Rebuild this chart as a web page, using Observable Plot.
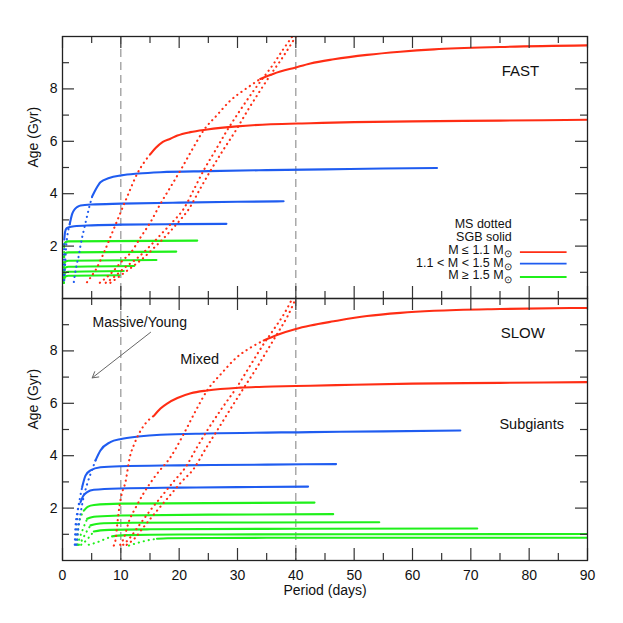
<!DOCTYPE html>
<html>
<head>
<meta charset="utf-8">
<script src="https://cdn.jsdelivr.net/npm/d3@7"></script>
<script src="https://cdn.jsdelivr.net/npm/@observablehq/plot@0.6"></script>
<style>
  html, body { margin: 0; padding: 0; background: #fff; }
  #chart svg { display: block; overflow: visible; }
</style>
</head>
<body>
<div id="chart"></div>
<script>
// ---------------- data (Period in days, Age in Gyr) ----------------
const xMajor = [0, 10, 20, 30, 40, 50, 60, 70, 80, 90];
const xMinor = [5, 15, 25, 35, 45, 55, 65, 75, 85];
const yMajor = [2, 4, 6, 8];
const yMinor = [1, 3, 5, 7, 9];
const dashedPeriods = [10, 40];
const massClasses = ["low", "mid", "high"];
const legendLabels = ["M ≤ 1.1 M⊙", "1.1 < M < 1.5 M⊙", "M ≥ 1.5 M⊙"];
const legendHeader = ["MS dotted", "SGB solid"];

// FAST panel
const fastRedMS1 = [[4.2,0.62],[4.8,0.8],[5.7,1.1],[7.1,1.75],[8.5,2.5],[10.1,3.36],[11.4,4.05],[12.8,4.76],[14.0,5.2],[15.1,5.52]];
const fastRedSGB1 = [[15.1,5.52],[16.0,5.75],[17.2,5.98],[18.5,6.1],[19.7,6.22],[21.9,6.35],[24.8,6.45],[29.9,6.57],[35.7,6.65],[42.5,6.69],[50,6.73],[60,6.76],[75,6.79],[90,6.82]];
const fastRedMS2 = [[6.4,0.6],[8.5,1.0],[10.3,1.45],[11.7,1.75],[13.4,2.34],[15.1,2.92],[16.8,3.62],[18.5,4.25],[20.5,5.0],[22.4,5.75],[24.2,6.42],[26.5,7.0],[28.8,7.56],[31.4,8.0],[33.9,8.38]];
const fastRedSGB2 = [[33.9,8.38],[36.2,8.58],[40,8.82],[42.5,8.97],[46.5,9.13],[52.2,9.3],[57.9,9.42],[63.7,9.51],[75,9.6],[90,9.66]];
const fastRedMS3 = [[7.4,0.6],[9.0,0.85],[10.5,1.15],[12.6,1.5],[15,2.0],[17.1,2.5],[19,2.95],[20.8,3.43],[22.5,4.15],[24.2,4.89],[26.2,5.65],[28.2,6.41],[30.5,7.2],[32.8,7.94],[34.5,8.45],[36.2,8.96],[37.8,9.5],[39.4,10]];
const fastRedMS4 = [[8.2,0.6],[9.5,0.8],[10.7,1.0],[12.2,1.25],[13.6,1.5],[16,2.0],[18.2,2.5],[20,2.95],[21.7,3.43],[23.5,4.15],[25.4,4.89],[27.5,5.65],[29.7,6.41],[31.8,7.2],[33.9,7.94],[35.7,8.55],[37.4,9.09],[40,10]];
const fastBlueMS1 = [[1.94,0.63],[2.06,0.82],[2.4,1.26],[2.8,1.64],[3.09,2.03],[3.37,2.34],[3.66,2.62],[4.1,3.04],[4.6,3.5],[5.1,3.9]];
const fastBlueSGB1 = [[5.1,3.9],[5.6,4.12],[6.5,4.44],[8,4.6],[10.06,4.7],[13,4.77],[16.8,4.82],[25,4.86],[35,4.9],[45,4.93],[55,4.96],[64.2,4.98]];
const fastBlueMS2 = [[0.3,0.7],[0.45,1.3],[0.6,1.9],[0.8,2.35],[1.0,2.62],[1.25,2.85]];
const fastBlueSGB2 = [[1.25,2.85],[1.66,3.23],[2.0,3.38],[2.5,3.49],[3.1,3.55],[5,3.59],[10.06,3.62],[20,3.66],[30,3.69],[37.9,3.71]];
const fastBlueMS3 = [[0.2,0.7],[0.25,1.5],[0.3,2.2]];
const fastBlueSGB3 = [[0.3,2.25],[0.45,2.55],[0.7,2.68],[1.08,2.72],[2,2.76],[5,2.79],[10.06,2.82],[20,2.84],[28.1,2.85]];
const fastGreenMS1 = [[0.2,0.6],[0.3,2.04]];
const fastGreenSGB1 = [[0.3,2.04],[0.5,2.15],[1,2.18],[23.1,2.21]];
const fastGreenMS2 = [[0.2,0.6],[0.3,1.62]];
const fastGreenSGB2 = [[0.3,1.62],[0.5,1.73],[1,1.76],[19.5,1.79]];
const fastGreenMS3 = [[0.2,0.6],[0.3,1.3]];
const fastGreenSGB3 = [[0.3,1.3],[0.5,1.41],[1,1.44],[16.1,1.47]];
const fastGreenMS4 = [[0.2,0.6],[0.3,1.07]];
const fastGreenSGB4 = [[0.3,1.07],[0.5,1.18],[1,1.21],[12.3,1.24]];
const fastGreenMS5 = [[0.2,0.6],[0.3,0.88]];
const fastGreenSGB5 = [[0.3,0.88],[0.5,0.99],[1,1.02],[10.5,1.05]];
const fastGreenMS6 = [[0.2,0.6],[0.3,0.74]];
const fastGreenSGB6 = [[0.3,0.74],[0.5,0.84],[1,0.87],[9.8,0.89]];

// SLOW panel
const slowRedMS1 = [[8.8,0.57],[9.1,0.8],[9.35,1.3],[9.6,1.8],[10.06,2.45],[10.8,3.0],[11.5,3.9],[12.4,4.5],[13.4,4.96],[14.5,5.3],[15.7,5.53]];
const slowRedSGB1 = [[15.7,5.53],[16.8,5.8],[18,6.0],[19.7,6.2],[22,6.38],[24.8,6.49],[30.5,6.6],[36,6.64],[42.5,6.67],[50,6.71],[60,6.75],[75,6.78],[90,6.81]];
const slowRedMS2 = [[9.9,0.6],[10.6,0.9],[11.4,1.5],[12.5,2.0],[14,2.6],[16,3.25],[18.5,3.94],[20.8,4.84],[22.8,5.7],[24.8,6.49],[27.3,7.15],[29.9,7.76],[32.2,8.12],[34.5,8.4]];
const slowRedSGB2 = [[34.5,8.4],[37,8.63],[40,8.84],[42.5,8.97],[46.5,9.13],[52.2,9.33],[57.9,9.45],[63.7,9.53],[75,9.6],[90,9.64]];
const slowRedMS3 = [[10.4,0.6],[11.5,0.85],[13,1.3],[15,1.9],[17,2.45],[19,3.0],[21.1,3.56],[23,4.3],[24.8,4.96],[27.3,5.8],[29.9,6.62],[32.2,7.45],[34.5,8.27],[36.3,8.85],[38,9.42],[39.4,10]];
const slowRedMS4 = [[11.0,0.6],[12.4,0.85],[14,1.3],[16.2,1.9],[18.3,2.45],[20.4,3.0],[22.5,3.5],[24.5,4.25],[26.5,4.96],[28.7,5.75],[30.8,6.49],[33,7.25],[35.1,8.02],[36.8,8.65],[38.5,9.29],[40,10]];
const slowBlueMS1 = [[2.4,0.6],[2.7,1.2],[3.1,1.8],[3.6,2.4],[4.2,2.9],[4.8,3.3],[5.66,3.82]];
const slowBlueSGB1 = [[5.66,3.82],[6.5,4.2],[8.2,4.52],[10.06,4.64],[13,4.73],[16.8,4.8],[25,4.85],[42.5,4.9],[55,4.93],[68.2,4.96]];
const slowBlueMS2 = [[2.2,0.6],[2.4,1.2],[2.6,1.8],[3.0,2.4],[3.37,2.8]];
const slowBlueSGB2 = [[3.37,2.8],[3.94,3.24],[4.8,3.44],[6.5,3.56],[9.94,3.6],[20,3.63],[35,3.66],[46.9,3.68]];
const slowBlueMS3 = [[2.1,0.6],[2.2,1.2],[2.5,1.8],[3.09,2.23]];
const slowBlueSGB3 = [[3.09,2.23],[3.6,2.48],[4.23,2.61],[5.37,2.7],[9.94,2.75],[20,2.78],[30,2.8],[42.1,2.82]];
const slowGreenMS1 = [[2.5,0.6],[2.6,1.0],[2.8,1.4],[3.2,1.7],[3.66,1.9]];
const slowGreenSGB1 = [[3.66,1.9],[4.3,2.05],[5.4,2.12],[10,2.17],[25,2.19],[43.2,2.21]];
const slowGreenMS2 = [[2.6,0.6],[3.0,0.9],[3.5,1.2],[4.23,1.59]];
const slowGreenSGB2 = [[4.23,1.59],[5,1.65],[5.95,1.68],[10,1.72],[25,1.75],[46.4,1.77]];
const slowGreenMS3 = [[2.8,0.6],[3.4,0.8],[4.0,1.05],[4.8,1.34]];
const slowGreenSGB3 = [[4.8,1.34],[5.8,1.39],[7.08,1.42],[12,1.44],[30,1.45],[54.3,1.46]];
const slowGreenMS4 = [[3.2,0.6],[4.0,0.75],[4.6,0.9],[5.37,1.11]];
const slowGreenSGB4 = [[5.37,1.11],[6.5,1.15],[8,1.17],[15,1.19],[40,1.21],[71.1,1.22]];
const slowGreenMS5 = [[4.5,0.6],[6,0.7],[7.3,0.82],[8.5,0.92]];
const slowGreenSGB5 = [[8.5,0.92],[9.5,0.95],[11,0.97],[20,0.99],[50,1.0],[90,1.01]];
const slowGreenMS6 = [[11.4,0.57],[13,0.68],[14.6,0.77],[16.2,0.83]];
const slowGreenSGB6 = [[16.2,0.83],[18,0.85],[25,0.86],[50,0.87],[90,0.87]];

// ---------------- table ----------------
const tracks = [
  ["fast","high","MS",fastGreenMS1],["fast","high","SGB",fastGreenSGB1],
  ["fast","high","MS",fastGreenMS2],["fast","high","SGB",fastGreenSGB2],
  ["fast","high","MS",fastGreenMS3],["fast","high","SGB",fastGreenSGB3],
  ["fast","high","MS",fastGreenMS4],["fast","high","SGB",fastGreenSGB4],
  ["fast","high","MS",fastGreenMS5],["fast","high","SGB",fastGreenSGB5],
  ["fast","high","MS",fastGreenMS6],["fast","high","SGB",fastGreenSGB6],
  ["fast","mid","MS",fastBlueMS1],["fast","mid","SGB",fastBlueSGB1],
  ["fast","mid","MS",fastBlueMS2],["fast","mid","SGB",fastBlueSGB2],
  ["fast","mid","MS",fastBlueMS3],["fast","mid","SGB",fastBlueSGB3],
  ["fast","low","MS",fastRedMS1],["fast","low","SGB",fastRedSGB1],
  ["fast","low","MS",fastRedMS2],["fast","low","SGB",fastRedSGB2],
  ["fast","low","MS",fastRedMS3],["fast","low","MS",fastRedMS4],
  ["slow","high","MS",slowGreenMS1],["slow","high","SGB",slowGreenSGB1],
  ["slow","high","MS",slowGreenMS2],["slow","high","SGB",slowGreenSGB2],
  ["slow","high","MS",slowGreenMS3],["slow","high","SGB",slowGreenSGB3],
  ["slow","high","MS",slowGreenMS4],["slow","high","SGB",slowGreenSGB4],
  ["slow","high","MS",slowGreenMS5],["slow","high","SGB",slowGreenSGB5],
  ["slow","high","MS",slowGreenMS6],["slow","high","SGB",slowGreenSGB6],
  ["slow","mid","MS",slowBlueMS1],["slow","mid","SGB",slowBlueSGB1],
  ["slow","mid","MS",slowBlueMS2],["slow","mid","SGB",slowBlueSGB2],
  ["slow","mid","MS",slowBlueMS3],["slow","mid","SGB",slowBlueSGB3],
  ["slow","low","MS",slowRedMS1],["slow","low","SGB",slowRedSGB1],
  ["slow","low","MS",slowRedMS2],["slow","low","SGB",slowRedSGB2],
  ["slow","low","MS",slowRedMS3],["slow","low","MS",slowRedMS4]
];
const rows = tracks.flatMap(([panel, mass, phase, pts], i) =>
  pts.map(([P, age]) => ({panel, mass, phase, id: i, P, age})));

const COLORS = ["#ff2d14", "#1f5cf0", "#1ff01a"];
const FONT = "Liberation Sans, Arial, Helvetica, sans-serif";
const W = 623, ML = 62, MR = 36, PANEL_H = 262, PANEL_W = W - ML - MR;
const TICK_MAJ = 12, TICK_MIN = 7, TICK_COLOR = "#333";

function tickMarks() {
  return [
    Plot.tickX(xMajor, {x: d => d, insetTop: PANEL_H - TICK_MAJ, stroke: TICK_COLOR, strokeWidth: 1.2}),
    Plot.tickX(xMinor, {x: d => d, insetTop: PANEL_H - TICK_MIN, stroke: TICK_COLOR, strokeWidth: 1.2}),
    Plot.tickX(xMajor, {x: d => d, insetBottom: PANEL_H - TICK_MAJ, stroke: TICK_COLOR, strokeWidth: 1.2}),
    Plot.tickX(xMinor, {x: d => d, insetBottom: PANEL_H - TICK_MIN, stroke: TICK_COLOR, strokeWidth: 1.2}),
    Plot.tickY(yMajor, {y: d => d, insetRight: PANEL_W - TICK_MAJ, stroke: TICK_COLOR, strokeWidth: 1.2}),
    Plot.tickY(yMinor, {y: d => d, insetRight: PANEL_W - TICK_MIN, stroke: TICK_COLOR, strokeWidth: 1.2}),
    Plot.tickY(yMajor, {y: d => d, insetLeft: PANEL_W - TICK_MAJ, stroke: TICK_COLOR, strokeWidth: 1.2}),
    Plot.tickY(yMinor, {y: d => d, insetLeft: PANEL_W - TICK_MIN, stroke: TICK_COLOR, strokeWidth: 1.2}),
    Plot.text(yMajor, {y: d => d, frameAnchor: "left", textAnchor: "end", dx: -5, fontSize: 14, fill: "#111"}),
    Plot.text(["Age (Gyr)"], {frameAnchor: "left", rotate: -90, dx: -29, fontSize: 14, fill: "#111"})
  ];
}

function trackMarks(panel) {
  const data = rows.filter(d => d.panel === panel);
  return [
    Plot.ruleX(dashedPeriods, {x: d => d, stroke: "#8a8a8a", strokeWidth: 1.1, strokeDasharray: "8,5"}),
    Plot.line(data.filter(d => d.phase === "SGB"), {x: "P", y: "age", z: "id", stroke: "mass", strokeWidth: 2.1, curve: "monotone-x", clip: true}),
    Plot.line(data.filter(d => d.phase === "MS"), {x: "P", y: "age", z: "id", stroke: "mass", strokeWidth: 2.1, strokeDasharray: "0.2,4.9", strokeLinecap: "round", curve: "monotone-x", clip: true})
  ];
}

const common = {
  width: W, marginLeft: ML, marginRight: MR,
  x: {domain: [0, 90], axis: null},
  y: {domain: [0, 10], axis: null},
  color: {domain: massClasses, range: COLORS},
  style: {fontFamily: FONT, fontSize: "14px", background: "#fff"}
};

const topPlot = Plot.plot({
  ...common,
  height: 36 + PANEL_H, marginTop: 36, marginBottom: 0,
  marks: [
    ...trackMarks("fast"),
    ...tickMarks(),
    Plot.text(["FAST"], {x: 78.5, y: 8.67, fontSize: 15, fill: "#111"}),
    Plot.text(legendHeader, {x: 77, y: [2.83, 2.35], textAnchor: "end", fontSize: 12.5, fill: "#111"}),
    Plot.text(legendLabels, {x: 77, y: [1.85, 1.37, 0.89], textAnchor: "end", fontSize: 12.5, fill: "#111"}),
    Plot.ruleY(massClasses, {y: [1.77, 1.33, 0.82], x1: 78.5, x2: 86.5, stroke: d => d, strokeWidth: 1.8}),
    Plot.frame({stroke: "#222", strokeWidth: 1.3})
  ]
});

const bottomPlot = Plot.plot({
  ...common,
  height: PANEL_H + 63, marginTop: 0, marginBottom: 63,
  marks: [
    ...trackMarks("slow"),
    ...tickMarks(),
    Plot.text(xMajor, {x: d => d, frameAnchor: "bottom", lineAnchor: "top", dy: 10, fontSize: 14, fill: "#111"}),
    Plot.text(["Period (days)"], {frameAnchor: "bottom", lineAnchor: "top", dy: 25, fontSize: 14, fill: "#111"}),
    Plot.text(["SLOW"], {x: 78.9, y: 8.66, fontSize: 15, fill: "#111"}),
    Plot.text(["Subgiants"], {x: 74.9, y: 5.19, textAnchor: "start", fontSize: 14.5, fill: "#111"}),
    Plot.text(["Mixed"], {x: 20.2, y: 7.67, textAnchor: "start", fontSize: 14.5, fill: "#111"}),
    Plot.text(["Massive/Young"], {x: 5.14, y: 9.08, textAnchor: "start", fontSize: 14, fill: "#111"}),
    Plot.arrow([0], {x1: 15.1, y1: 8.71, x2: 5.09, y2: 6.97, stroke: "#666", strokeWidth: 1, headLength: 10}),
    Plot.frame({stroke: "#222", strokeWidth: 1.3})
  ]
});

// subscript solar symbol
[topPlot, bottomPlot].forEach(svg => {
  d3.select(svg).selectAll("text").each(function () {
    const t = this.textContent;
    if (t.endsWith("⊙") && this.children.length === 0) {
      this.textContent = t.slice(0, -1);
      d3.select(this).append("tspan").attr("dy", "0.35em").attr("font-size", "9.5px").text("⊙");
    }
  });
});

document.getElementById("chart").append(topPlot, bottomPlot);
</script>
</body>
</html>
